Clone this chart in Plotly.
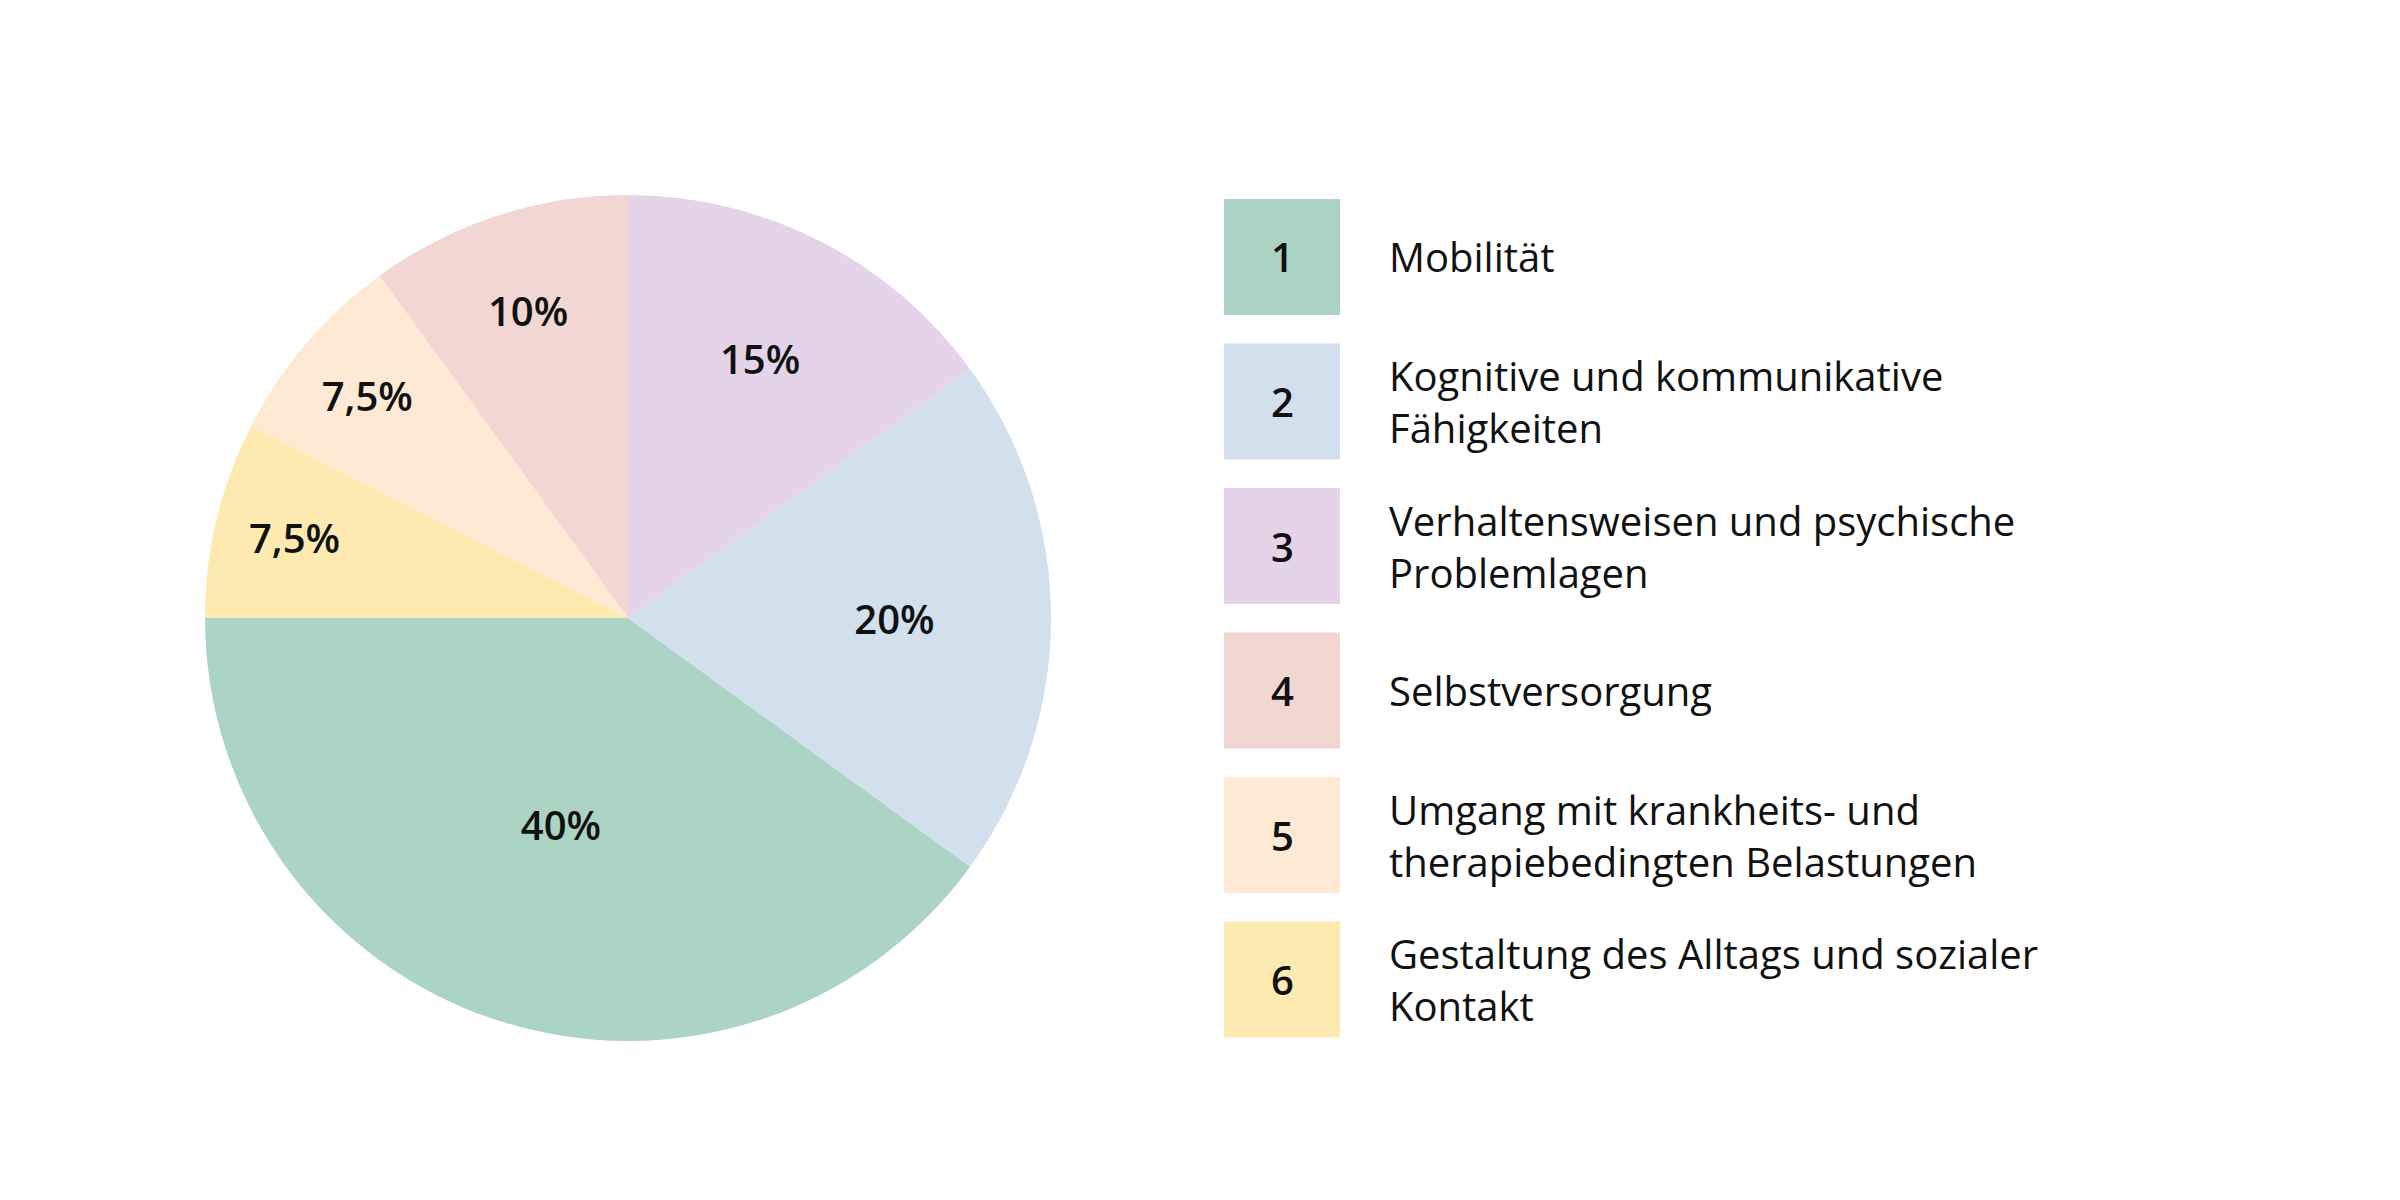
import plotly.graph_objects as go

# Data
numbers = ["1", "2", "3", "4", "5", "6"]
categories = [
    "Mobilität",
    "Kognitive und kommunikative<br>Fähigkeiten",
    "Verhaltensweisen und psychische<br>Problemlagen",
    "Selbstversorgung",
    "Umgang mit krankheits- und<br>therapiebedingten Belastungen",
    "Gestaltung des Alltags und sozialer<br>Kontakt",
]
values = [40, 20, 15, 10, 7.5, 7.5]
pct_labels = ["40%", "20%", "15%", "10%", "7,5%", "7,5%"]
colors = ["#ABD4C5", "#D1E0EC", "#E4D3E9", "#F2D6D1", "#FDE9D4", "#FCEAB0"]

W, H = 2400, 1200
FONT = "Open Sans, Lato, sans-serif"

fig = go.Figure()
fig.add_trace(go.Pie(
    labels=numbers,
    values=values,
    text=pct_labels,
    textinfo="text",
    textposition="inside",
    insidetextorientation="horizontal",
    sort=False,
    direction="counterclockwise",
    rotation=126,
    marker=dict(colors=colors, line=dict(width=0)),
    textfont=dict(family=FONT, size=40, color="#111111", weight=600),
    hoverinfo="skip",
    showlegend=False,
    domain=dict(x=[(628 - 423) / W, (628 + 423) / W], y=[1 - (618 + 423) / H, 1 - (618 - 423) / H]),
))

# Custom legend
sq_left, sq_size, first_top, step = 1224, 116, 199, 144.5
text_x = 1387
shapes = []
annotations = []
for i, (num, cat, col) in enumerate(zip(numbers, categories, colors)):
    top = first_top + i * step
    shapes.append(dict(
        type="rect", xref="paper", yref="paper",
        x0=sq_left / W, x1=(sq_left + sq_size) / W,
        y0=1 - (top + sq_size) / H, y1=1 - top / H,
        fillcolor=col, line=dict(width=0), layer="above",
    ))
    cy = 1 - (top + sq_size / 2) / H
    annotations.append(dict(
        x=(sq_left + sq_size / 2) / W, y=cy, xref="paper", yref="paper",
        text=num, showarrow=False, xanchor="center", yanchor="middle",
        font=dict(family=FONT, size=40, color="#111111", weight=600),
    ))
    annotations.append(dict(
        x=text_x / W, y=cy, xref="paper", yref="paper",
        text=cat, showarrow=False, xanchor="left", yanchor="middle", align="left",
        font=dict(family=FONT, size=40, color="#111111"),
    ))

fig.update_layout(
    width=W, height=H,
    margin=dict(l=0, r=0, t=0, b=0),
    paper_bgcolor="white", plot_bgcolor="white",
    shapes=shapes, annotations=annotations,
)

fig.write_html("out.html")
